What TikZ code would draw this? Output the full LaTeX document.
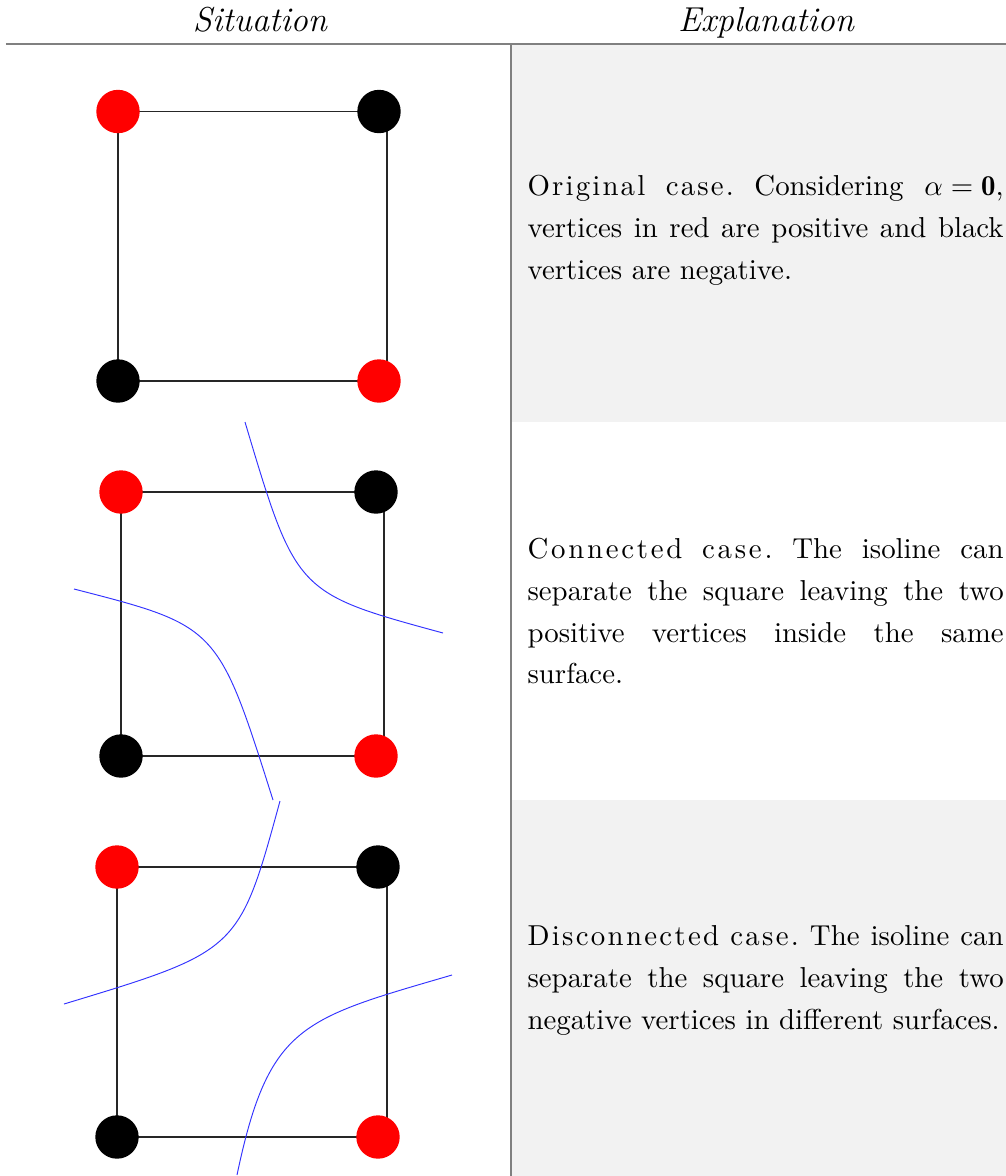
\documentclass[tikz,border=0pt]{standalone}
\usepackage{fontspec}
\pgfdeclarelayer{bg}
\pgfsetlayers{bg,main}
\definecolor{rulegray}{gray}{0.5}
\definecolor{cellgray}{gray}{0.949}
\definecolor{iso}{rgb}{0.2,0.2,1}
% letter-spaced word: \lsword{<kern>}{<word>}
\makeatletter
\newcommand{\lsword}[2]{\def\ls@amt{#1}\ls@step#2\@nil}
\def\ls@step#1#2\@nil{#1\ifx\relax#2\relax\else\kern\ls@amt\ls@step#2\@nil\fi}
\makeatother
\frenchspacing
\begin{document}
\begin{tikzpicture}[x=0.347pt, y=-0.347pt,
  vtx/.style={circle, inner sep=0pt, minimum size=15.06pt},
  posv/.style={vtx, fill=red},
  negv/.style={vtx, fill=black},
  sqedge/.style={line width=0.6pt, black!85},
  isoline/.style={iso, line width=0.33pt},
  tablerule/.style={rulegray, line width=0.7pt},
  headtext/.style={anchor=base, inner sep=0pt, font=\fontsize{12pt}{14pt}\selectfont\itshape},
  expl/.style={anchor=west, text width=165.2pt, align=justify, inner sep=0pt,
               font=\fontsize{10pt}{14.57pt}\selectfont}]
\useasboundingbox (0,0) rectangle (1006,1176);

% shaded cells of the explanation column
\fill[cellgray] (512,45) rectangle (1006,422);
\fill[cellgray] (512,800) rectangle (1006,1176);

% table rules
\draw[tablerule] (6,44) -- (1006,44);
\draw[tablerule] (511,44) -- (511,1176);

% column headings
\node[headtext] (hsit) at (260,31) {Situation};
\node[headtext] (hexp) at (766,31) {Explanation};

% --- original case ---
\node[posv] (a1) at (118,111.5) {};
\node[negv] (b1) at (379,111.5) {};
\node[negv] (c1) at (118,381) {};
\node[posv] (d1) at (379,381) {};

% --- connected case ---
\node[posv] (a2) at (121,492) {};
\node[negv] (b2) at (376,492) {};
\node[negv] (c2) at (121,756) {};
\node[posv] (d2) at (376,756) {};

% --- disconnected case ---
\node[posv] (a3) at (117,867) {};
\node[negv] (b3) at (378,867) {};
\node[negv] (c3) at (117,1137) {};
\node[posv] (d3) at (378,1137) {};

\begin{pgfonlayer}{bg}
  \foreach \s/\off in {1/8, 2/8, 3/9} {
    \draw[sqedge] (a\s.center) -- (b\s.center);
    \draw[sqedge] (a\s.center) -- (c\s.center);
    \draw[sqedge] (c\s.center) -- (d\s.center);
    \draw[sqedge] ([xshift=\off*0.347pt]b\s.center) -- ([xshift=\off*0.347pt]d\s.center);
  }
\end{pgfonlayer}

% isolines
\draw[isoline] (245,422) .. controls (296,593) and (296,593) .. (443,633);
\draw[isoline] (74,589) .. controls (218,626) and (218,626) .. (273,800);
\draw[isoline] (280,801) .. controls (239,951) and (239,951) .. (64,1004);
\draw[isoline] (452,975) .. controls (301.6,1019) and (268.7,1024.3) .. (237,1175);

% explanations
\node[expl] (t1) at (527,230.5) {\lsword{0.75pt}{Original} \lsword{0.75pt}{case.} Considering \mbox{$\alpha=\mathbf{0}$},\linebreak
  vertices in red are positive and black\linebreak vertices are negative.};
\node[expl] (t2) at (527,611) {\lsword{0.95pt}{Connected} \lsword{0.95pt}{case.} The isoline can\linebreak
  separate the square leaving the two\linebreak positive vertices inside the same\linebreak surface.};
\node[expl] (t3) at (527,980) {\lsword{0.8pt}{Disconnected} \lsword{0.8pt}{case.} The isoline can\linebreak
  separate the square leaving the two\linebreak negative vertices in different surfaces.};
\end{tikzpicture}
\end{document}
